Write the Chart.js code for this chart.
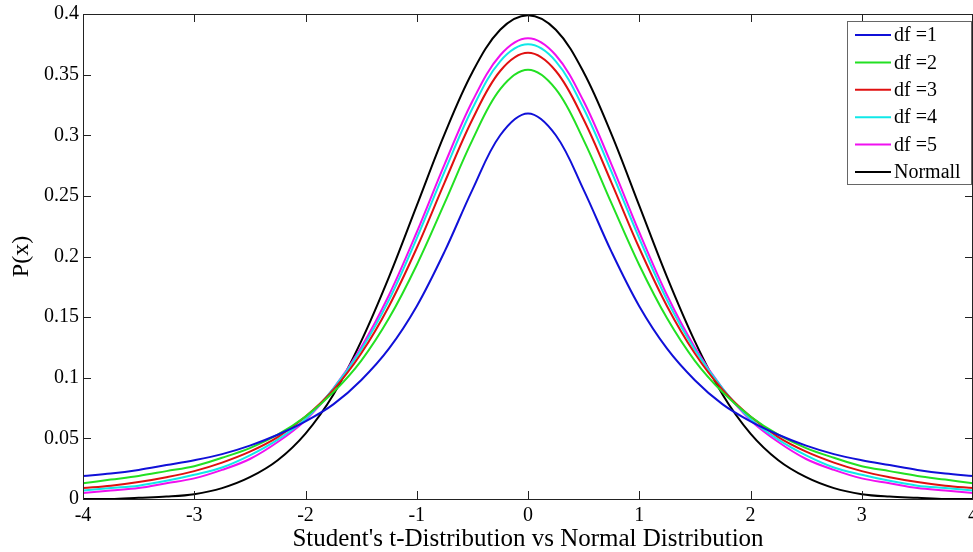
<!DOCTYPE html>
<html>
<head>
<meta charset="utf-8">
<script src="https://cdn.jsdelivr.net/npm/chart.js@4/dist/chart.umd.min.js"></script>
<style>
  html, body { margin: 0; padding: 0; background: #fff; }
  #wrap { width: 973px; height: 552px; position: relative; }
</style>
</head>
<body>
<div id="wrap"><canvas id="chart"></canvas></div>
<script>
var xValues = [-4, -3.75, -3.5, -3.25, -3, -2.75, -2.5, -2.25, -2, -1.75, -1.5, -1.25, -1, -0.75, -0.5, -0.25,
  0, 0.25, 0.5, 0.75, 1, 1.25, 1.5, 1.75, 2, 2.25, 2.5, 2.75, 3, 3.25, 3.5, 3.75, 4];

var df1 = [0.019, 0.021, 0.024, 0.028, 0.032, 0.037, 0.044, 0.053, 0.064, 0.078, 0.098, 0.124, 0.159, 0.204, 0.255, 0.300,
  0.318, 0.300, 0.255, 0.204, 0.159, 0.124, 0.098, 0.078, 0.064, 0.053, 0.044, 0.037, 0.032, 0.028, 0.024, 0.021, 0.019];
var df2 = [0.013, 0.016, 0.019, 0.023, 0.027, 0.034, 0.042, 0.053, 0.068, 0.088, 0.114, 0.149, 0.193, 0.244, 0.296, 0.338,
  0.354, 0.338, 0.296, 0.244, 0.193, 0.149, 0.114, 0.088, 0.068, 0.053, 0.042, 0.034, 0.027, 0.023, 0.019, 0.016, 0.013];
var df3 = [0.009, 0.011, 0.014, 0.018, 0.023, 0.030, 0.039, 0.051, 0.068, 0.090, 0.120, 0.159, 0.207, 0.261, 0.313, 0.353,
  0.368, 0.353, 0.313, 0.261, 0.207, 0.159, 0.120, 0.090, 0.068, 0.051, 0.039, 0.030, 0.023, 0.018, 0.014, 0.011, 0.009];
var df4 = [0.007, 0.009, 0.011, 0.015, 0.020, 0.026, 0.036, 0.049, 0.066, 0.091, 0.123, 0.164, 0.215, 0.270, 0.322, 0.361,
  0.375, 0.361, 0.322, 0.270, 0.215, 0.164, 0.123, 0.091, 0.066, 0.049, 0.036, 0.026, 0.020, 0.015, 0.011, 0.009, 0.007];
var df5 = [0.005, 0.007, 0.009, 0.013, 0.017, 0.024, 0.033, 0.047, 0.065, 0.091, 0.125, 0.168, 0.220, 0.276, 0.328, 0.366,
  0.380, 0.366, 0.328, 0.276, 0.220, 0.168, 0.125, 0.091, 0.065, 0.047, 0.033, 0.024, 0.017, 0.013, 0.009, 0.007, 0.005];
var normal = [0.000, 0.000, 0.001, 0.002, 0.004, 0.009, 0.018, 0.032, 0.054, 0.086, 0.130, 0.183, 0.242, 0.301, 0.352, 0.387,
  0.399, 0.387, 0.352, 0.301, 0.242, 0.183, 0.130, 0.086, 0.054, 0.032, 0.018, 0.009, 0.004, 0.002, 0.001, 0.000, 0.000];

var seriesLabels = ['df =1', 'df =2', 'df =3', 'df =4', 'df =5', 'Normall'];
var seriesColors = ['#1010d8', '#22e022', '#e01010', '#10e8e8', '#f010f0', '#000000'];
var xTicks = [-4, -3, -2, -1, 0, 1, 2, 3, 4];
var yTicks = [0, 0.05, 0.1, 0.15, 0.2, 0.25, 0.3, 0.35, 0.4];

var serif = '"Liberation Serif", "Times New Roman", serif';

function toPoints(values) {
  return values.map(function (v, i) { return { x: xValues[i], y: v }; });
}

function buildLineDataset(label, data, color) {
  return {
    label: label,
    data: toPoints(data),
    borderColor: color,
    backgroundColor: color,
    borderWidth: 2,
    pointRadius: 0,
    tension: 0.35,
  };
}

// box round the plot with inward tick marks on all four sides
var frameTicks = {
  id: 'frameTicks',
  afterDatasetsDraw: function (chart) {
    var ctx = chart.ctx;
    var a = chart.chartArea;
    var xs = chart.scales.x;
    var ys = chart.scales.y;
    var len = 8;
    ctx.save();
    ctx.strokeStyle = '#222';
    ctx.lineWidth = 1;
    ctx.beginPath();
    ctx.rect(a.left + 0.5, a.top + 0.5, a.right - a.left - 1, a.bottom - a.top);
    xTicks.forEach(function (t) {
      var px = Math.round(xs.getPixelForValue(t)) + 0.5;
      ctx.moveTo(px, a.bottom); ctx.lineTo(px, a.bottom - len);
      ctx.moveTo(px, a.top); ctx.lineTo(px, a.top + len);
    });
    yTicks.forEach(function (t) {
      var py = Math.round(ys.getPixelForValue(t)) + 0.5;
      ctx.moveTo(a.left, py); ctx.lineTo(a.left + len, py);
      ctx.moveTo(a.right, py); ctx.lineTo(a.right - len, py);
    });
    ctx.stroke();
    ctx.restore();
  }
};

// legend box in the upper right corner
var boxLegend = {
  id: 'boxLegend',
  afterDraw: function (chart) {
    var ctx = chart.ctx;
    var left = 847, top = 21, w = 125, h = 164;
    ctx.save();
    ctx.fillStyle = '#fff';
    ctx.fillRect(left, top, w, h);
    ctx.strokeStyle = '#666';
    ctx.lineWidth = 1;
    ctx.strokeRect(left + 0.5, top + 0.5, w - 1, h - 1);
    ctx.font = '20px ' + serif;
    ctx.textBaseline = 'middle';
    ctx.textAlign = 'left';
    chart.data.datasets.forEach(function (ds, i) {
      var y = 35 + i * 27.4;
      ctx.strokeStyle = ds.borderColor;
      ctx.lineWidth = 2;
      ctx.beginPath();
      ctx.moveTo(855, y);
      ctx.lineTo(891, y);
      ctx.stroke();
      ctx.fillStyle = '#000';
      ctx.fillText(ds.label, 894, y + 1);
    });
    ctx.restore();
  }
};

new Chart(document.getElementById('chart'), {
  type: 'line',
  data: {
    datasets: [
      buildLineDataset(seriesLabels[0], df1, seriesColors[0]),
      buildLineDataset(seriesLabels[1], df2, seriesColors[1]),
      buildLineDataset(seriesLabels[2], df3, seriesColors[2]),
      buildLineDataset(seriesLabels[3], df4, seriesColors[3]),
      buildLineDataset(seriesLabels[4], df5, seriesColors[4]),
      buildLineDataset(seriesLabels[5], normal, seriesColors[5]),
    ],
  },
  options: {
    responsive: true,
    maintainAspectRatio: false,
    animation: false,
    layout: { padding: { top: 14, right: 0, left: 0, bottom: 0 } },
    plugins: {
      legend: { display: false },
      tooltip: { enabled: false },
    },
    scales: {
      x: {
        type: 'linear',
        min: -4,
        max: 4,
        grid: { display: false, drawTicks: false },
        border: { display: false },
        afterBuildTicks: function (scale) {
          scale.ticks = xTicks.map(function (v) { return { value: v }; });
        },
        afterFit: function (scale) {
          scale.height = 53;
          scale.paddingLeft = 0;
          scale.paddingRight = 0;
        },
        ticks: {
          color: '#000',
          padding: 5,
          maxRotation: 0,
          font: { family: serif, size: 20 },
          callback: function (v) { return String(v); },
        },
        title: {
          display: true,
          text: "Student's t-Distribution vs Normal Distribution",
          color: '#000',
          font: { family: serif, size: 25, lineHeight: 1 },
          padding: { top: 0, bottom: 0 },
        },
      },
      y: {
        type: 'linear',
        min: 0,
        max: 0.4,
        grid: { display: false, drawTicks: false },
        border: { display: false },
        afterBuildTicks: function (scale) {
          scale.ticks = yTicks.map(function (v) { return { value: v }; });
        },
        afterFit: function (scale) {
          scale.width = 83;
          scale.paddingTop = 0;
          scale.paddingBottom = 0;
        },
        ticks: {
          color: '#000',
          padding: 4,
          font: { family: serif, size: 20 },
          callback: function (v) { return String(Math.round(v * 100) / 100); },
        },
        title: {
          display: true,
          text: 'P(x)',
          color: '#000',
          font: { family: serif, size: 24, lineHeight: 1 },
          padding: { top: 10, bottom: 0 },
        },
      },
    },
  },
  plugins: [frameTicks, boxLegend],
});
</script>
</body>
</html>
